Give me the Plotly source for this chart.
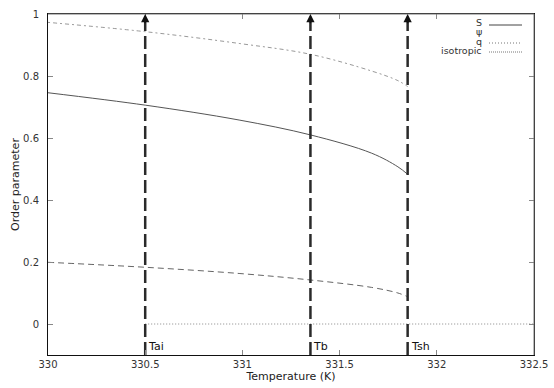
import plotly.graph_objects as go

# data
T_ord = [330.0, 330.5, 330.983, 331.35, 331.665, 331.80, 331.85]
psi_vals = [0.973, 0.943, 0.905, 0.870, 0.816, 0.785, 0.766]
S_vals = [0.746, 0.706, 0.658, 0.610, 0.551, 0.507, 0.483]
q_vals = [0.199, 0.183, 0.163, 0.142, 0.118, 0.100, 0.088]
T_iso = [330.5, 332.5]
iso_vals = [0.0, 0.0]
marker_T = [330.5, 331.35, 331.85]
marker_names = ["Tai", "Tb", "Tsh"]
x_ticks = [330, 330.5, 331, 331.5, 332, 332.5]
y_ticks = [0, 0.2, 0.4, 0.6, 0.8, 1]
legend_names = ["S", "ψ", "q", "isotropic"]

W, H = 554, 388
ML, MR, MT, MB = 48, 20, 14, 33
PW, PH = W - ML - MR, H - MT - MB


def px(x):
    return (x - ML) / PW


def py(y):
    return (H - MB - y) / PH


FONT = "DejaVu Sans"
TXT = "#333333"
styles = [
    dict(color="#555555", width=1, dash="solid"),
    dict(color="#999999", width=1, dash="2px,3px,4px,3px"),
    dict(color="#666666", width=1, dash="6px,4px"),
    dict(color="#888888", width=1, dash="1px,2px"),
]
legend_line = [
    dict(color="#444444", width=1, dash="solid"),
    None,
    dict(color="#777777", width=1, dash="1px,2px"),
    dict(color="#777777", width=1, dash="1px,1px"),
]

fig = go.Figure()
series = [(T_ord, S_vals), (T_ord, psi_vals), (T_ord, q_vals), (T_iso, iso_vals)]
for (xs, ys), nm, st in zip(series, legend_names, styles):
    fig.add_trace(go.Scatter(x=xs, y=ys, mode="lines", name=nm, showlegend=False,
                             line=dict(shape="spline" if len(xs) > 2 else "linear", **st)))

for t, name in zip(marker_T, marker_names):
    fig.add_trace(go.Scatter(x=[t, t], y=[-0.1, 0.99], mode="lines", showlegend=False,
                             line=dict(color="#2a2a2a", width=2.5, dash="13px,5px"),
                             hoverinfo="skip"))
    fig.add_annotation(x=t, y=1.0, ax=t, ay=0.965, xref="x", yref="y", axref="x", ayref="y",
                       showarrow=True, arrowhead=2, arrowsize=1.1, arrowwidth=1.5,
                       arrowcolor="#111111", text="")
    fig.add_annotation(x=t, y=-0.072, xref="x", yref="y", text=name, showarrow=False,
                       xanchor="left", xshift=1, font=dict(family=FONT, size=11, color="#111111"))

# custom gnuplot-like legend (text right-aligned, sample to the right)
row_y = [23, 32, 41, 50]  # pixel rows from top of figure
for nm, ry, ll in zip(legend_names, row_y, legend_line):
    fig.add_annotation(x=px(483), y=py(ry), xref="paper", yref="paper", text=nm, showarrow=False,
                       xanchor="right", yanchor="middle", borderpad=0,
                       font=dict(family=FONT, size=9.5, color=TXT))
    if ll is not None:
        fig.add_shape(type="line", xref="paper", yref="paper",
                      x0=px(489), x1=px(522), y0=py(ry + 2), y1=py(ry + 2), line=ll)

# gray top/right frame
fig.add_shape(type="line", xref="paper", yref="paper", x0=0, x1=1, y0=1, y1=1,
              line=dict(color="#777777", width=1))
fig.add_shape(type="line", xref="paper", yref="paper", x0=1, x1=1, y0=0, y1=1,
              line=dict(color="#777777", width=1))

fig.update_layout(
    width=W, height=H,
    margin=dict(l=ML, r=MR, t=MT, b=MB, autoexpand=False),
    paper_bgcolor="white", plot_bgcolor="white",
    font=dict(family=FONT, size=10, color=TXT),
    showlegend=False,
    xaxis=dict(range=[330, 332.5], tickvals=x_ticks, ticktext=[str(v) for v in x_ticks],
               ticks="inside", ticklen=5, tickcolor="#888888", showgrid=False, zeroline=False,
               showline=True, linecolor="#111111", linewidth=1, mirror="ticks",
               automargin=False,
               title=dict(text="Temperature (K)", font=dict(family=FONT, size=11, color="#222222"),
                          standoff=2),
               tickfont=dict(family=FONT, size=10, color=TXT)),
    yaxis=dict(range=[-0.1, 1], tickvals=y_ticks, ticktext=["0", "0.2", "0.4", "0.6", "0.8", "1"],
               ticks="inside", ticklen=5, tickcolor="#888888", showgrid=False, zeroline=False,
               showline=True, linecolor="#111111", linewidth=1, mirror="ticks",
               automargin=False, ticklabelstandoff=6,
               title=dict(text="Order parameter", font=dict(family=FONT, size=11, color="#222222"),
                          standoff=1),
               tickfont=dict(family=FONT, size=10, color=TXT)),
)
fig.write_html("out.html", config={"displayModeBar": False},
               post_script="document.body.style.margin='0';document.body.style.padding='0';")
